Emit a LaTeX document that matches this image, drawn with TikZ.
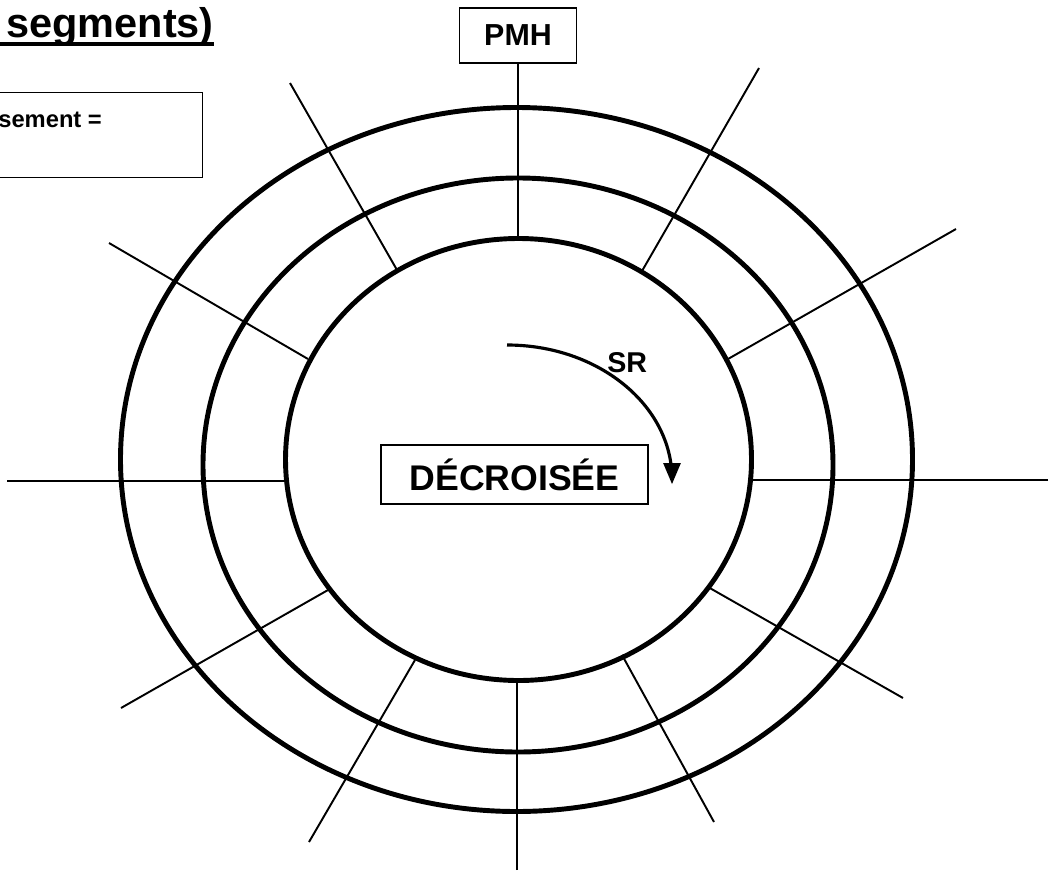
\documentclass[tikz,border=0pt]{standalone}
\usepackage{fontspec}
\setmainfont{Liberation Sans}
\usetikzlibrary{arrows}
\tikzset{
  ring/.style={line width=2.8pt},
  spoke/.style={line width=1.1pt},
  box/.style={draw, line width=0.8pt, inner sep=0pt},
  turn/.style={line width=1.8pt, -triangle 45},
}
\newcommand\fsz[1]{\fontsize{#1}{1.2\dimexpr#1pt\relax}\selectfont\bfseries}

\begin{document}
\begin{tikzpicture}[x=0.02cm,y=-0.02cm]
\useasboundingbox (0,0) rectangle (1050,872);
\draw[ring] (516.5,459.5) ellipse [x radius=396, y radius=352];
\draw[ring] (518,465) ellipse [x radius=315, y radius=287];
\draw[ring] (518.5,459.5) ellipse [x radius=233, y radius=221];
\foreach \ox/\oy/\ix/\iy in {759/68/642/271, 956/229/728/359, 1048/480/751/480,
  903/698/708/587, 714/822/622/655, 517/870/517/680, 309/842/415/660,
  121/708/328/590, 7/481/286/481, 109/243/308/359, 290/83/397/270}
  \draw[spoke] (\ox,\oy) -- (\ix,\iy);
\node[box, minimum width=2.34cm, minimum height=1.1cm, font=\fsz{17.3}] (pmh) at (518,35.5) {PMH};
\draw[spoke] (pmh.south) -- (pmh.south |- 0,239);
\node[box, minimum width=5.34cm, minimum height=1.18cm, font=\fsz{20.3}] (decroisee) at (514.5,474.5) {DÉCROISÉE};
\node[anchor=base west, inner sep=0pt, font=\fsz{16.3}] (sr) at (607,372) {SR};
\draw[turn] (507,345) .. controls (598,345) and (672,405) .. (672,484);
\node[anchor=base west, inner sep=0pt, font=\fsz{23.6}] (title) at (6,37) {segments)};
\draw[line width=2.3pt] (0,44) -- (title.east |- 0,44);
\node[box, minimum width=4.22cm, minimum height=1.7cm, anchor=north east] (note) at (203,92) {};
\node[anchor=base west, inner sep=0pt, font=\fsz{13.5}] (notetext) at (-2,127) {sement =};
\end{tikzpicture}
\end{document}
